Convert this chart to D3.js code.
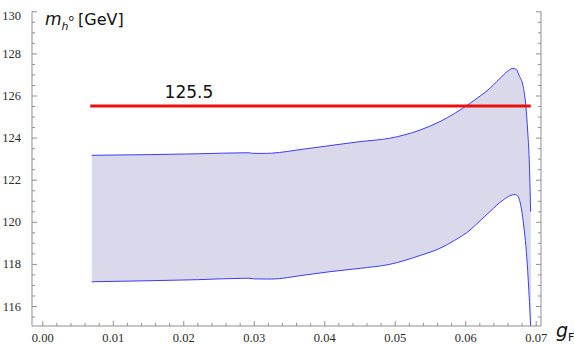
<!DOCTYPE html>
<html>
<head>
<meta charset="utf-8">
<script src="https://cdn.jsdelivr.net/npm/d3@7/dist/d3.min.js"></script>
<style>
  html, body { margin: 0; padding: 0; background: #fff; }
  svg { display: block; }
</style>
</head>
<body>
<svg id="chart" width="574" height="345"></svg>
<script>
// Upper edge of the Higgs-mass band versus g_F
const upperG = [0.00701, 0.0150, 0.0220, 0.0292, 0.0300, 0.0318, 0.0325, 0.0370, 0.0408, 0.0451, 0.0493,
  0.0536, 0.0564, 0.0585, 0.0607, 0.0621, 0.0635, 0.0645, 0.0654, 0.0661, 0.06681, 0.0673, 0.06762,
  0.06823, 0.06861, 0.06885, 0.06908, 0.06928];
const upperM = [123.16, 123.19, 123.23, 123.28, 123.25, 123.25, 123.26, 123.45, 123.62, 123.81, 123.97,
  124.36, 124.76, 125.15, 125.63, 125.97, 126.34, 126.67, 126.97, 127.18, 127.29, 127.22, 126.97,
  126.42, 125.47, 124.36, 122.94, 120.48];

// Lower edge of the band
const lowerG = [0.00701, 0.0150, 0.0220, 0.0292, 0.0300, 0.0318, 0.0325, 0.0370, 0.0408, 0.0451, 0.0493,
  0.0536, 0.0564, 0.0585, 0.0607, 0.0621, 0.0635, 0.0645, 0.0654, 0.0661, 0.0669, 0.0673, 0.06762,
  0.0680, 0.0683, 0.06861, 0.06894, 0.06928, 0.0694];
const lowerM = [117.15, 117.20, 117.25, 117.32, 117.29, 117.28, 117.28, 117.46, 117.63, 117.79, 117.98,
  118.40, 118.74, 119.12, 119.61, 120.05, 120.48, 120.80, 121.04, 121.20, 121.29, 121.27, 121.12,
  120.56, 119.80, 118.82, 117.24, 115.00, 114.00];

// Reference mass line
const refMass = 125.5;
const refLabel = "125.5";
const refRange = [0.0068, 0.0693];

// Axis ticks
const xMajor = [0.00, 0.01, 0.02, 0.03, 0.04, 0.05, 0.06, 0.07];
const xMajorLabels = ["0.00", "0.01", "0.02", "0.03", "0.04", "0.05", "0.06", "0.07"];
const yMajor = [116, 118, 120, 122, 124, 126, 128, 130];
const yMajorLabels = ["116", "118", "120", "122", "124", "126", "128", "130"];

const svg = d3.select("#chart");
const pLeft = 32, pRight = 541, pTop = 11.3, pBottom = 326;

const x = d3.scaleLinear().domain([-0.00146, 0.07075]).range([pLeft, pRight]);
const y = d3.scaleLinear().domain([115.05, 130]).range([pBottom, pTop]);

const xMinor = d3.range(0, 0.0705, 0.002).filter(v => !xMajor.some(m => Math.abs(m - v) < 1e-9));
const yMinor = d3.range(115.5, 130.01, 0.5).filter(v => !yMajor.includes(v));

const axisColor = "#8f8f8f";
const labelColor = "#2a2a2a";

svg.append("defs").append("clipPath").attr("id", "plotClip")
  .append("rect").attr("x", pLeft).attr("y", pTop).attr("width", pRight - pLeft).attr("height", pBottom - pTop);

const upper = upperG.map((g, i) => [g, upperM[i]]);
const lower = lowerG.map((g, i) => [g, lowerM[i]]);

const lineGen = d3.line().x(d => x(d[0])).y(d => y(d[1])).curve(d3.curveMonotoneX);

// Filled band: upper edge forward, lower edge back
const plot = svg.append("g").attr("clip-path", "url(#plotClip)");
const upperPath = lineGen(upper);
const lowerRevPath = lineGen(lower.slice().reverse());
plot.append("path")
  .attr("d", upperPath + "L" + lowerRevPath.slice(1) + "Z")
  .attr("fill", "#d9d9eb")
  .attr("stroke", "none");

plot.append("path").attr("d", upperPath)
  .attr("fill", "none").attr("stroke", "#3c3cf5").attr("stroke-width", 1);
plot.append("path").attr("d", lineGen(lower))
  .attr("fill", "none").attr("stroke", "#3c3cf5").attr("stroke-width", 1);

// Reference line
plot.append("line")
  .attr("x1", x(refRange[0])).attr("x2", x(refRange[1]))
  .attr("y1", y(refMass)).attr("y2", y(refMass))
  .attr("stroke", "#e8100c").attr("stroke-width", 3);

svg.append("text")
  .attr("x", x(0.0208)).attr("y", y(refMass) - 8.5)
  .attr("text-anchor", "middle")
  .attr("font-family", "DejaVu Sans, sans-serif")
  .attr("font-size", 17)
  .attr("fill", "#111")
  .text(refLabel);

// Bottom axis
const xMinG = svg.append("g").attr("transform", `translate(0,${pBottom})`)
  .call(d3.axisBottom(x).tickValues(xMinor).tickSizeInner(-3).tickSizeOuter(0).tickFormat(""));
xMinG.select(".domain").remove();
const xMajG = svg.append("g").attr("transform", `translate(0,${pBottom})`)
  .call(d3.axisBottom(x).tickValues(xMajor).tickSizeInner(-5).tickSizeOuter(0)
    .tickFormat((d, i) => xMajorLabels[i]).tickPadding(7.5));
xMajG.select(".domain").remove();
xMajG.selectAll("text").attr("font-family", "Liberation Serif, Times New Roman, serif")
  .attr("font-size", 12.5).attr("fill", labelColor);

// Left axis
const yMinG = svg.append("g").attr("transform", `translate(${pLeft},0)`)
  .call(d3.axisLeft(y).tickValues(yMinor).tickSizeInner(-3).tickSizeOuter(0).tickFormat(""));
yMinG.select(".domain").remove();
const yMajG = svg.append("g").attr("transform", `translate(${pLeft},0)`)
  .call(d3.axisLeft(y).tickValues(yMajor).tickSizeInner(-5).tickSizeOuter(0)
    .tickFormat((d, i) => yMajorLabels[i]).tickPadding(11));
yMajG.select(".domain").remove();
yMajG.selectAll("text").attr("font-family", "Liberation Serif, Times New Roman, serif")
  .attr("font-size", 12.5).attr("fill", labelColor)
  .attr("y", d => Math.max(0, 15.5 - y(d)));

// Right axis (ticks only)
const rMinG = svg.append("g").attr("transform", `translate(${pRight},0)`)
  .call(d3.axisRight(y).tickValues(yMinor).tickSizeInner(-3).tickSizeOuter(0).tickFormat(""));
rMinG.select(".domain").remove();
const rMajG = svg.append("g").attr("transform", `translate(${pRight},0)`)
  .call(d3.axisRight(y).tickValues(yMajor).tickSizeInner(-5).tickSizeOuter(0).tickFormat(""));
rMajG.select(".domain").remove();

svg.selectAll(".tick line").attr("stroke", axisColor);

// Frame lines
svg.append("line").attr("x1", pLeft).attr("x2", pRight).attr("y1", pBottom).attr("y2", pBottom)
  .attr("stroke", axisColor).attr("stroke-width", 1);
svg.append("line").attr("x1", pLeft).attr("x2", pLeft).attr("y1", pTop).attr("y2", pBottom)
  .attr("stroke", axisColor).attr("stroke-width", 1);
svg.append("line").attr("x1", pRight).attr("x2", pRight).attr("y1", pTop).attr("y2", pBottom)
  .attr("stroke", axisColor).attr("stroke-width", 1);

// Axis titles
const yTitle = svg.append("text")
  .attr("x", 45).attr("y", 25)
  .attr("font-family", "DejaVu Sans, sans-serif")
  .attr("fill", "#111");
yTitle.append("tspan").attr("font-style", "italic").attr("font-size", 17).text("m");
yTitle.append("tspan").attr("font-style", "italic").attr("font-size", 11).attr("dy", 5).text("h");
yTitle.append("tspan").attr("font-size", 9).attr("dy", -9).text("o");
yTitle.append("tspan").attr("font-size", 16).attr("dy", 4).attr("dx", 4).text("[GeV]");

const xTitle = svg.append("text")
  .attr("x", 556).attr("y", 337)
  .attr("font-family", "DejaVu Sans, sans-serif")
  .attr("fill", "#111");
xTitle.append("tspan").attr("font-style", "italic").attr("font-size", 19).text("g");
xTitle.append("tspan").attr("font-size", 11).attr("dy", 4).text("F");
</script>
</body>
</html>
